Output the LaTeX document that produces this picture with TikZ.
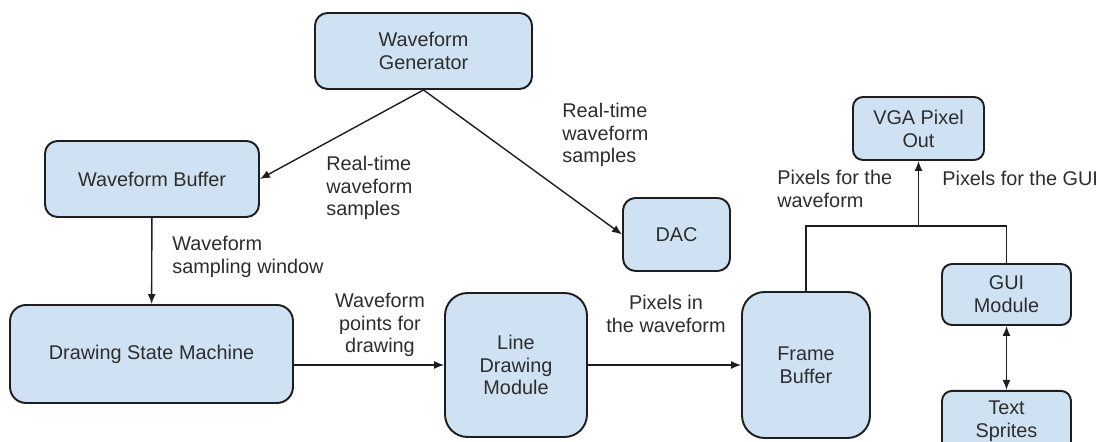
\documentclass[tikz,border=0pt]{standalone}
\usepackage{xcolor}
\usepackage{fontspec}
\setmainfont{Liberation Sans}
\usepackage{tikz}
\usetikzlibrary{arrows.meta, positioning}
\definecolor{scopeblue}{RGB}{207, 226, 243}
\definecolor{scopetext}{RGB}{45, 45, 45}
\definecolor{scopeline}{RGB}{30, 30, 30}

\begin{document}
\begin{tikzpicture}[
    x=0.02cm, y=-0.02cm,
    every node/.style={font=\fontsize{11.3}{13}\selectfont, text=scopetext},
    block/.style={rectangle, rounded corners=0.25cm, draw=scopeline, line width=1.1pt, fill=scopeblue, align=center, inner sep=0pt},
    note/.style={align=left, inner sep=0pt, anchor=west},
    link/.style={draw=scopeline, line width=0.8pt, -{Latex[length=2mm, width=1.6mm]}}
]
\useasboundingbox (0,0) rectangle (1099,442);

% blocks
\node[block, minimum width=4.34cm, minimum height=1.52cm] (generator) at (423.5,51) {Waveform\\Generator};
\node[block, minimum width=4.28cm, minimum height=1.52cm] (buffer) at (152,179) {Waveform Buffer};
\node[block, minimum width=5.66cm, minimum height=1.96cm, rounded corners=0.32cm] (statemachine) at (151.5,354) {Drawing State Machine};
\node[block, minimum width=2.84cm, minimum height=2.88cm, rounded corners=0.45cm] (linedraw) at (516,365) {Line\\Drawing\\Module};
\node[block, minimum width=2.56cm, minimum height=2.92cm, rounded corners=0.45cm] (framebuffer) at (806,365) {Frame\\Buffer};
\node[block, minimum width=2.14cm, minimum height=1.46cm] (dac) at (676.5,234.5) {DAC};
\node[block, minimum width=2.62cm, minimum height=1.26cm, rounded corners=0.2cm] (vga) at (918.5,128.5) {VGA Pixel\\Out};
\node[block, minimum width=2.58cm, minimum height=1.22cm, rounded corners=0.2cm] (gui) at (1006.5,294.5) {GUI\\Module};
\node[block, minimum width=2.58cm, minimum height=1.22cm, rounded corners=0.2cm, below=1.28cm of gui] (sprites) {Text\\Sprites};

% labels
\node[note] (lblbuffer) at (326,188) {Real-time\\waveform\\samples};
\node[note] (lbldac) at (562,135) {Real-time\\waveform\\samples};
\node[note] (lblwindow) at (172,257) {Waveform\\sampling window};
\node[align=center, inner sep=0pt] (lblpoints) at (380,325) {Waveform\\points for\\drawing};
\node[align=center, inner sep=0pt] (lblpixels) at (666,314) {Pixels in\\the waveform};
\node[note] (lblfbwave) at (777,189) {Pixels for the\\waveform};
\node[note] (lblgui) at (942,178) {Pixels for the GUI};

% connectors
\coordinate[below=1.3cm of vga] (join);
\draw[link] (generator.south) -- (buffer.east);
\draw[link] (generator.south) -- (dac.west);
\draw[link] (buffer) -- (statemachine);
\draw[link] (statemachine.east |- linedraw) -- (linedraw);
\draw[link] (linedraw) -- (framebuffer);
\draw[draw=scopeline, line width=0.8pt] (framebuffer.north) |- (join) -| (gui.north);
\draw[link] (join) -- (vga);
\draw[link, {Latex[length=2mm, width=1.6mm]}-{Latex[length=2mm, width=1.6mm]}] (gui) -- (sprites);

\end{tikzpicture}
\end{document}
